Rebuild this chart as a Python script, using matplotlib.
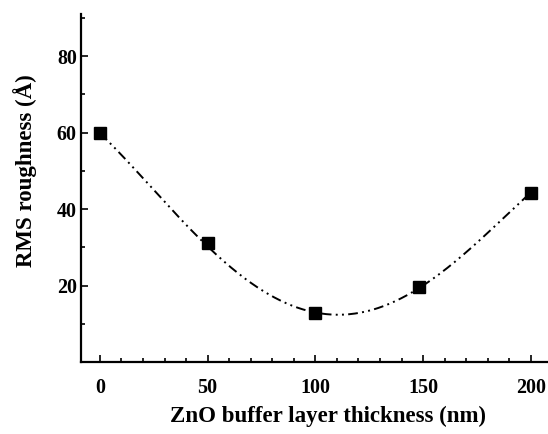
import numpy as np
import matplotlib
matplotlib.use("Agg")
import matplotlib.pyplot as plt
from matplotlib.ticker import MultipleLocator

# measured points
thickness = [0, 50, 100, 148, 200]
rms = [60.0, 31.0, 12.8, 19.6, 44.3]
# fitted guide curve
curve_x = [0, 31, 50, 78, 101, 107, 122, 132, 148, 167, 189, 200]
curve_y = [60, 40.4, 31, 18.3, 12.4, 12.0, 13.1, 14.7, 19.5, 27.3, 38.5, 44.3]
xticks = [0, 50, 100, 150, 200]
yticks = [20, 40, 60, 80]

plt.rcParams['font.family'] = ['Liberation Serif', 'DejaVu Serif']
plt.rcParams['font.weight'] = 'bold'

W, H = 548, 434
fig = plt.figure(figsize=(W/100, H/100), dpi=100)
x0, y0, x1, y1 = 81, 362, 548, 14
ax = fig.add_axes([x0/W, 1-y0/H, (x1-x0)/W, (y0-y1)/H])

coef = np.polyfit(curve_x, curve_y, 4)
xf = np.linspace(curve_x[0], curve_x[-1], 300)
ax.plot(xf, np.polyval(coef, xf), color='black', lw=1.4,
        dashes=[5, 2.2, 1, 2.2, 1, 2.2])
ax.plot(thickness, rms, 's', color='black', markersize=8.5)

ax.set_xlim(-8.8, 208)
ax.set_ylim(0, 91)
ax.set_xticks(xticks)
ax.set_yticks(yticks)
ax.xaxis.set_minor_locator(MultipleLocator(10))
ax.yaxis.set_minor_locator(MultipleLocator(10))
ax.tick_params(which='both', direction='in', width=1.2, labelsize=14.4)
ax.tick_params(which='major', length=5)
ax.tick_params(which='minor', length=3)
ax.tick_params(axis='x', pad=11.5)
ax.tick_params(axis='y', pad=3)
for s in ['top', 'right']:
    ax.spines[s].set_visible(False)
for s in ['left', 'bottom']:
    ax.spines[s].set_linewidth(1.6)
for lab in ax.get_xticklabels() + ax.get_yticklabels():
    lab.set_fontweight('bold')

ax.set_xlabel('ZnO buffer layer thickness (nm)', fontsize=16.5, fontweight='bold')
ax.set_ylabel('RMS roughness (Å)', fontsize=16.5, fontweight='bold')
ax.xaxis.set_label_coords((328-x0)/(x1-x0), -(406-y0)/(y0-y1))
ax.yaxis.set_label_coords(-(x0-37)/(x1-x0), (y0-171)/(y0-y1))

fig.savefig('out.png', dpi=100)
